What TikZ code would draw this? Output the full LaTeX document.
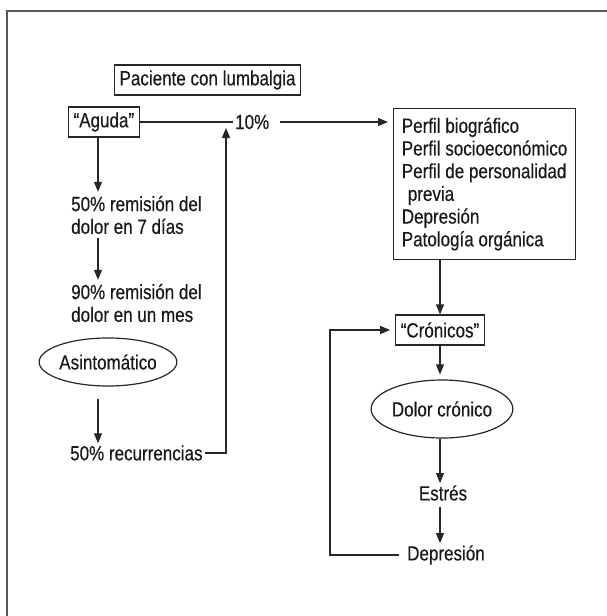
\documentclass[tikz,border=0pt]{standalone}
\usepackage{fontspec}
\setmainfont[FakeStretch=0.83,FakeBold=0.35]{Liberation Sans}
\usetikzlibrary{arrows.meta,shapes.geometric}
\begin{document}
\begin{tikzpicture}[x=1pt,y=-1pt,
  every node/.style={font=\fontsize{20.5}{22.7}\selectfont, text=black!90},
  box/.style={draw=black!85, line width=1.2pt, inner xsep=5pt, minimum height=30pt},
  txt/.style={inner sep=0pt, align=left},
  oval/.style={draw=black!85, ellipse, line width=1.2pt, inner sep=0pt},
  ln/.style={line width=1.2pt, draw=black!85},
  arr/.style={ln, -{Triangle[length=10pt,width=8pt]}}]
\useasboundingbox (0,0) rectangle (607,616);
% frame
\draw[line width=1.3pt, draw=black!65] (7,650) -- (7,11) -- (650,11);
% nodes
\node[box, anchor=west] (pac) at (114,80) {Paciente con lumbalgia};
\node[box, anchor=west] (agu) at (68,122) {“Aguda”};
\node[txt, anchor=west, inner xsep=2pt] (p10) at (233,122) {10\%};
\node[draw=black!85, line width=1.2pt, anchor=north west, minimum width=182pt,
      minimum height=151pt, align=left, inner xsep=5pt] (perf) at (393,108)
  {Perfil biográfico\\Perfil socioeconómico\\Perfil de personalidad\\\hspace*{6pt}previa\\Depresión\\Patología orgánica};
\node[txt, anchor=west] (r50) at (71,215) {50\% remisión del\\dolor en 7 días};
\node[txt, anchor=west] (r90) at (71,303) {90\% remisión del\\dolor en un mes};
\node[oval, minimum width=126pt, minimum height=48pt] (asi) at (108,362) {Asintomático};
\node[txt, anchor=west] (rec) at (70,453) {50\% recurrencias};
\node[box] (cron) at (440,330) {“Crónicos”};
\node[oval, minimum width=140pt, minimum height=58pt] (dol) at (442,409) {Dolor crónico};
\node[txt] (est) at (443,493) {Estrés};
\node[txt] (dep) at (446,555) {Depresión};
% helper coordinates
\coordinate (ax) at (98,0);
\coordinate (upx) at (226,0);
\coordinate (fb) at (330,0);
% connectors
\draw[ln] (agu.east) -- (p10.west);
\draw[arr, shorten <=9pt, shorten >=5pt] (p10.east) -- (p10.east -| perf.west);
\draw[arr, shorten >=4pt] (agu.south -| ax) -- (r50.north -| ax);
\draw[arr, shorten <=4pt, shorten >=4pt] (r50.south -| ax) -- (r90.north -| ax);
\draw[arr, shorten <=12pt, shorten >=2pt] (asi.south -| ax) -- (rec.north -| ax);
\draw[arr, shorten <=2pt, shorten >=6pt] (rec.east) -- (rec.east -| upx) -- (upx |- agu.east);
\draw[arr] (perf.south -| cron) -- (cron.north);
\draw[arr, shorten >=5pt] (cron.south) -- (dol.north -| cron);
\draw[arr, shorten >=2pt] (dol.south -| cron) -- (est.north -| cron);
\draw[arr, shorten <=6pt, shorten >=2pt] (est.south -| cron) -- (dep.north -| cron);
\draw[arr, shorten <=8pt, shorten >=5pt] (dep.west) -- (dep.west -| fb) -- (cron.west -| fb) -- (cron.west);
\end{tikzpicture}
\end{document}
